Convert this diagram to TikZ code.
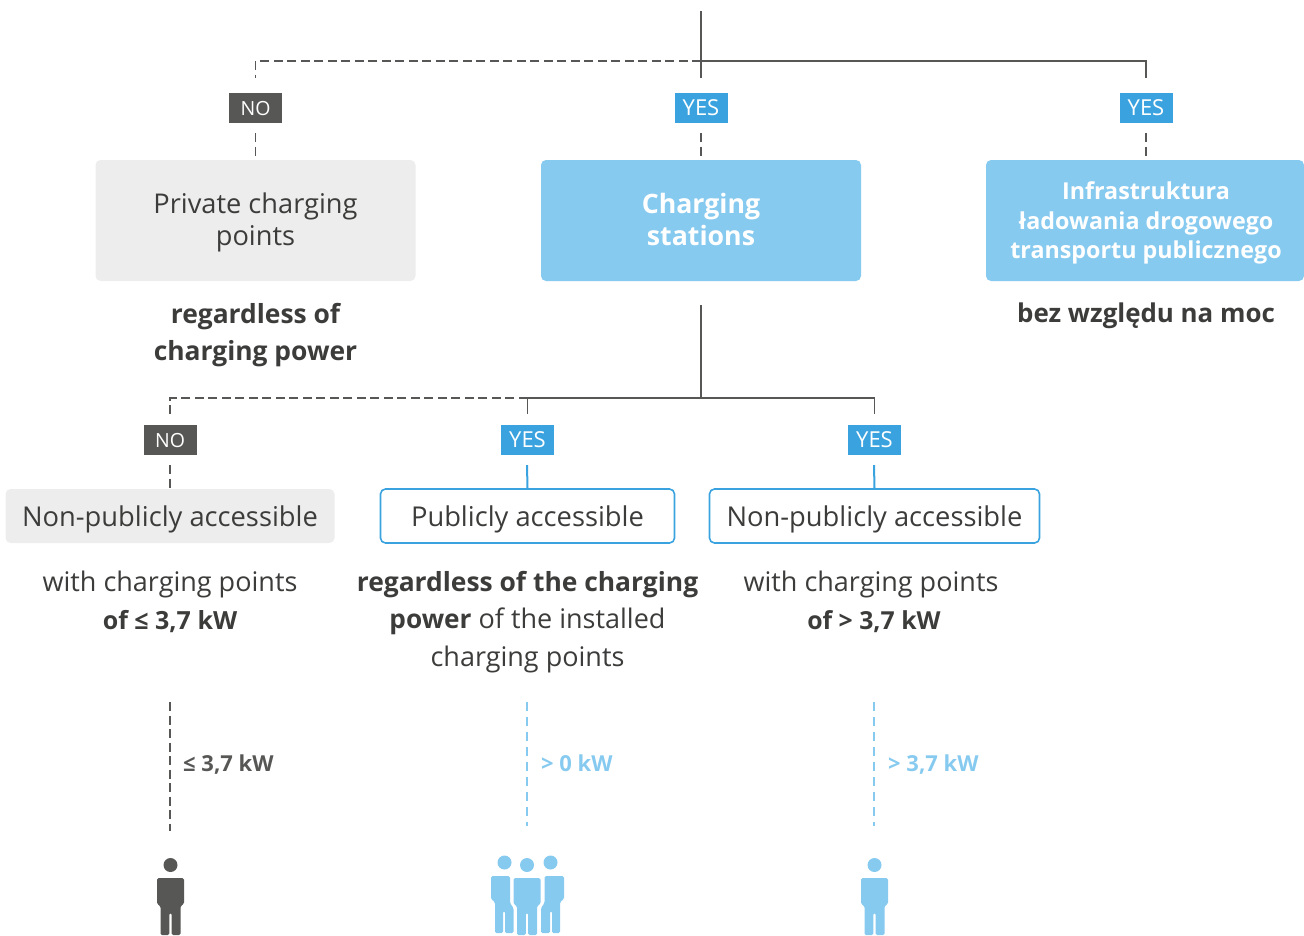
\documentclass[tikz,border=0pt]{standalone}
\usepackage{fontspec}
\setmainfont{Open Sans}
\definecolor{dk}{HTML}{575756}
\definecolor{txt}{HTML}{3C3C3B}
\definecolor{sky}{HTML}{87CAF0}
\definecolor{blu}{HTML}{3AA3DF}
\definecolor{gry}{HTML}{EDEDED}
\tikzset{
 x=1pt,y=-1pt,
 tag/.style={minimum width=53pt,minimum height=30pt,inner sep=0pt,text=white,text height=15pt,text depth=0pt},
 notag/.style={tag,fill=dk,font=\fontsize{19.5}{24}\selectfont},
 yestag/.style={tag,fill=blu,font=\fontsize{22}{24}\selectfont},
 bigbox/.style={rounded corners=5pt,minimum width=320pt,minimum height=121pt,inner sep=0pt},
 boxtext/.style={align=center,inner sep=0pt},
 widebox/.style={rounded corners=5pt,minimum height=54pt,inner sep=0pt,text=txt,text height=20pt,text depth=0pt,font=\fontsize{27.3}{32}\selectfont},
 outl/.style={widebox,draw=blu,line width=1.6pt,fill=white},
 note/.style={align=center,text=txt,font=\fontsize{27}{37.5}\selectfont},
 boldnote/.style={align=center,text=txt,font=\fontsize{26.4}{37.5}\selectfont\bfseries},
 kw/.style={font=\fontsize{22}{28}\selectfont\bfseries,anchor=west,inner sep=0pt,text height=16pt,text depth=0pt},
 solidl/.style={draw=dk,line width=1.2pt},
 dashl/.style={draw=dk,line width=1.2pt,dash pattern=on 9pt off 4.5pt},
 bluel/.style={draw=blu,line width=2pt},
 skydash/.style={draw=sky,line width=2pt,dash pattern=on 9pt off 6pt},
}
\newcommand{\personbody}[2]{% centre x, colour
 \fill[#2] (#1,865) circle (7);
 \fill[#2,rounded corners=1.5pt] (#1-13.5,878) -- (#1+13.5,878) -- (#1+13.5,904) -- (#1+10,906) -- (#1+10,935) -- (#1+1.2,935) -- (#1+1.2,913) -- (#1-1.2,913) -- (#1-1.2,935) -- (#1-10,935) -- (#1-10,906) -- (#1-13.5,904) -- cycle;
}
\begin{document}
\begin{tikzpicture}
\useasboundingbox (0,0) rectangle (1304,935);
% top tree
\coordinate (top) at (701,11);
\coordinate (t1) at (701,61);
\coordinate (t1l) at (255.5,61);
\coordinate (t1r) at (1146,61);
\node[notag] (no1) at (255.5,108) {NO};
\node[yestag] (yes1) at (701,108) {YES};
\node[yestag] (yes2) at (1146,108) {YES};
\node[bigbox,fill=gry] (priv) at (255.5,220.5) {};
\node[boxtext,text=txt,font=\fontsize{27.2}{32}\selectfont] (privt) at (255.5,222.5) {Private charging\\points};
\node[bigbox,fill=sky] (stat) at (701,220.5) {};
\node[boxtext,text=white,font=\fontsize{26.7}{32}\selectfont\bfseries] (statt) at (701,219.5) {Charging\\stations};
\node[bigbox,fill=sky,minimum width=318pt] (infra) at (1145,220.5) {};
\node[boxtext,text=white,font=\fontsize{23.3}{29.5}\selectfont\bfseries] (infrat) at (1146,223) {Infrastruktura\\ładowania drogowego\\transportu publicznego};
\node[boldnote] (n1) at (255.5,335) {regardless of\\charging power};
\node[boldnote,font=\fontsize{25.9}{37.5}\selectfont\bfseries] (n2) at (1146,316) {bez względu na moc};
\draw[solidl] (top) -- (t1);
\draw[dashl] (t1) -- (t1l) -- ++(0,17);
\draw[solidl] (t1) -- (t1r) -- ++(0,17);
\draw[solidl] (t1) -- ++(0,17);
\draw[dashl] (no1.south) ++(0,10) -- (priv.north);
\draw[dashl] (yes1.south) ++(0,10) -- (stat.north);
\draw[dashl] (yes2.south) ++(0,10) -- (infra.north -| yes2);
% second tree
\coordinate (s0) at (701,305);
\coordinate (s1) at (701,398);
\coordinate (sa) at (527.5,398);
\coordinate (sb) at (874.5,398);
\coordinate (sc) at (170,398);
\node[notag] (no2) at (170,440) {NO};
\node[yestag] (yes3) at (527.5,440) {YES};
\node[yestag] (yes4) at (874.5,440) {YES};
\node[widebox,fill=gry,minimum width=329pt] (b1) at (170,516) {Non-publicly accessible};
\node[outl,minimum width=294pt] (b2) at (527.5,516) {Publicly accessible};
\node[outl,minimum width=330pt] (b3) at (874.5,516) {Non-publicly accessible};
\draw[solidl] (s0) -- (s1);
\draw[solidl] (sb) -- (sa) -- ++(0,16);
\draw[solidl] (sb) -- ++(0,16);
\draw[dashl] (sa) -- (sc) -- ++(0,16);
\draw[dashl] (no2.south) ++(0,10) -- (b1.north);
\draw[bluel] (yes3.south) ++(-0.5,10) -- (b2.north -| yes3.south) ++(-0.5,0);
\draw[bluel] (yes4.south) ++(-0.5,10) -- (b3.north -| yes4.south) ++(-0.5,0);
% notes
\node[note] (n3) at (170,602) {with charging points\\\textbf{\fontsize{25}{37.5}\selectfont of ≤ 3,7 kW}};
\node[note] (n4) at (527.5,622) {\textbf{\fontsize{26.4}{37.5}\selectfont regardless of the charging}\\\textbf{\fontsize{26.2}{37.5}\selectfont power} of the installed\\charging points};
\node[note] (n5) at (871,602) {with charging points\\\hspace*{6pt}\textbf{\fontsize{24.8}{37.5}\selectfont of > 3,7 kW}};
% lower links
\coordinate (l1a) at (170,702);
\coordinate (l1b) at (170,831);
\coordinate (l2a) at (527,702);
\coordinate (l2b) at (527,826);
\coordinate (l3a) at (874,702);
\coordinate (l3b) at (874,826);
\draw[dashl] (l1a) -- (l1b);
\draw[skydash] (l2a) -- (l2b);
\draw[skydash] (l3a) -- (l3b);
\node[kw,text=dk] (k1) at (183,763) {≤ 3,7 kW};
\node[kw,text=sky] (k2) at (541,763) {> 0 kW};
\node[kw,text=sky] (k3) at (888,763) {> 3,7 kW};
% people
\personbody{170.5}{dk}
\personbody{874.5}{sky}
\fill[sky] (504.5,862.5) circle (7);
\fill[sky] (550.5,862.5) circle (7);
\fill[sky,rounded corners=1.5pt] (491,876) -- (510,876) -- (510,903) -- (513.5,908) -- (513.5,933) -- (505,933) -- (505,911) -- (503,911) -- (503,933) -- (495,933) -- (495,902) -- (491,899) -- cycle;
\fill[sky,rounded corners=1.5pt] (564,876) -- (544.5,876) -- (544.5,903) -- (541,908) -- (541,933) -- (550,933) -- (550,911) -- (552,911) -- (552,933) -- (560,933) -- (560,902) -- (564,899) -- cycle;
\personbody{527}{sky}
\end{tikzpicture}
\end{document}
